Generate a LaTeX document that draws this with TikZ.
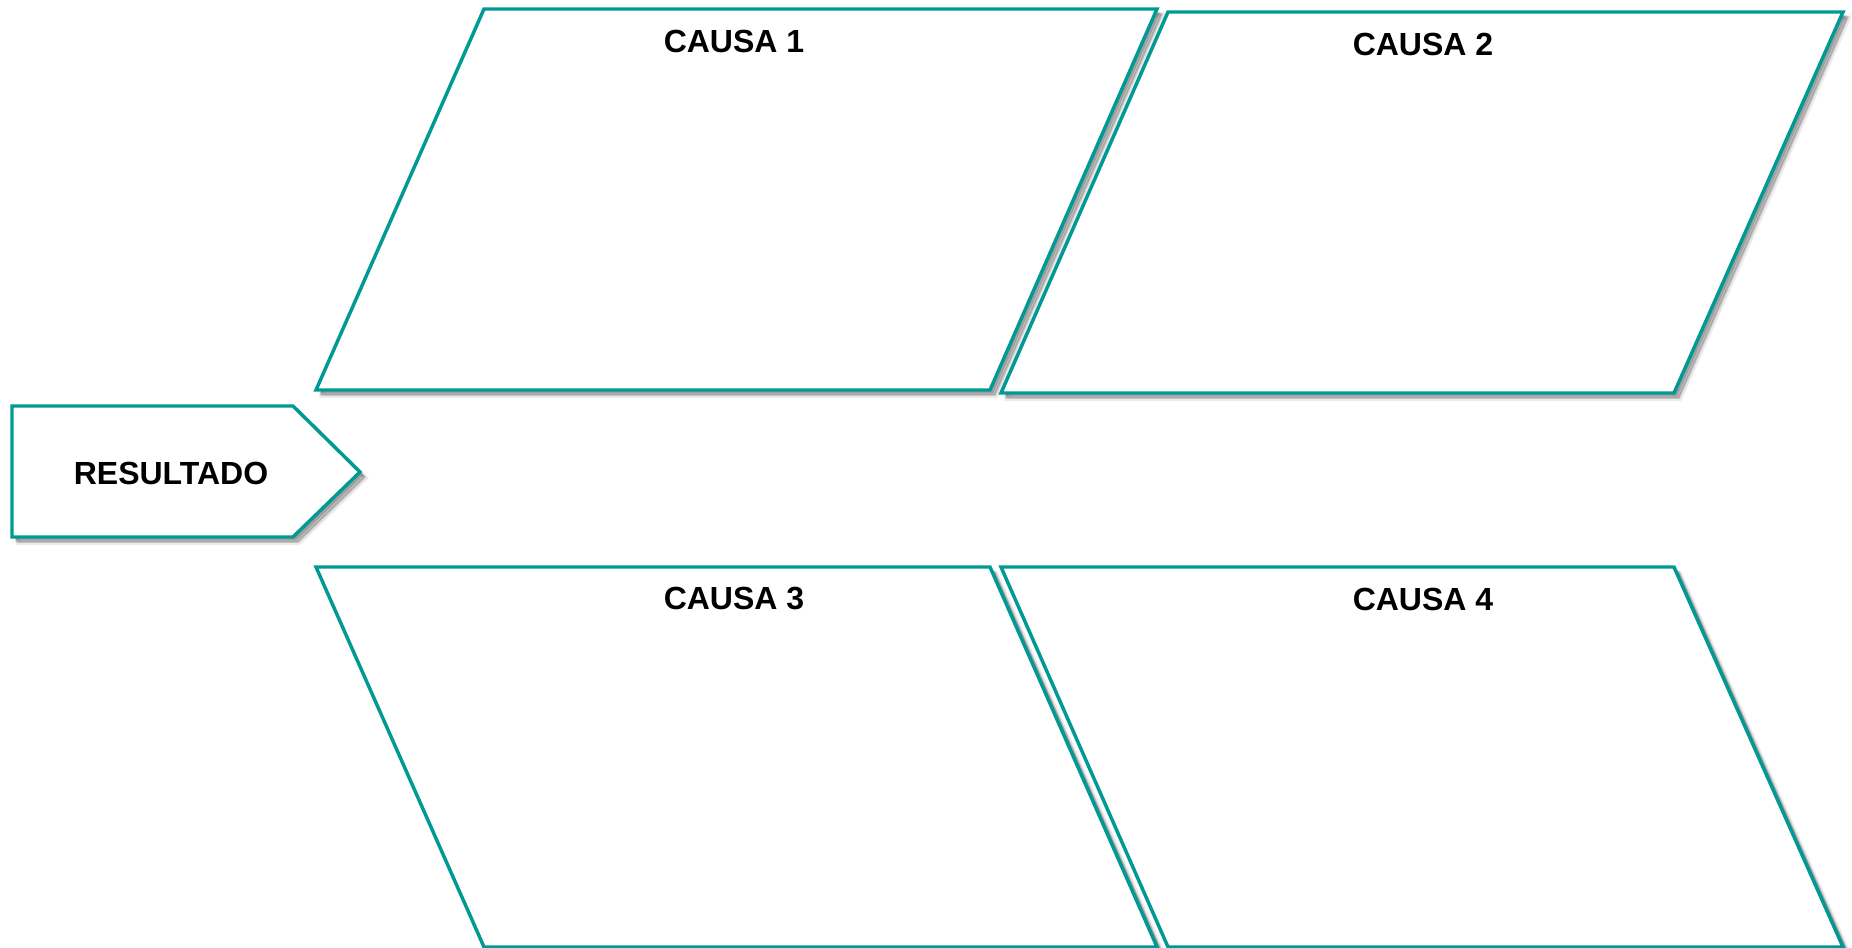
\documentclass[tikz,border=0pt]{standalone}
\usepackage{fontspec}
\setmainfont{Liberation Sans}
\usetikzlibrary{shadows}
\definecolor{tealline}{RGB}{0,153,148}
\begin{document}
\begin{tikzpicture}[x=0.75pt,y=-0.75pt,
  box/.style={draw=tealline,line width=2.6pt,fill=white,line join=miter,
    drop shadow={shadow xshift=4.5pt,shadow yshift=-4.5pt,opacity=0.08,fill=black,draw=black,line width=3pt},
    drop shadow={shadow xshift=3.5pt,shadow yshift=-3.5pt,opacity=0.15,fill=black,draw=black,line width=1.5pt},
    drop shadow={shadow xshift=2.5pt,shadow yshift=-2.5pt,opacity=0.2,fill=black}},
  lbl/.style={font=\fontsize{24}{28}\selectfont\bfseries,text=black}]
\useasboundingbox (0,0) rectangle (1852,948);
% Causa 1
\path[box] (484,9) -- (1157,9) -- (990,390) -- (316,390) -- cycle;
% Causa 2
\path[box] (1168,12) -- (1843,12) -- (1674,393) -- (1001,393) -- cycle;
% Causa 3
\path[box] (316,567) -- (990,567) -- (1157,947) -- (484,947) -- cycle;
% Causa 4
\path[box] (1001,567) -- (1674,567) -- (1843,947) -- (1168,947) -- cycle;
% Resultado
\path[box] (12,406) -- (293,406) -- (360,472) -- (293,537) -- (12,537) -- cycle;
\node[lbl] (c1) at (734,41) {CAUSA 1};
\node[lbl] (c2) at (1423,44) {CAUSA 2};
\node[lbl] (c3) at (734,599) {CAUSA 3};
\node[lbl] (c4) at (1423,599) {CAUSA 4};
\node[lbl] (res) at (171,473) {RESULTADO};
\end{tikzpicture}
\end{document}
